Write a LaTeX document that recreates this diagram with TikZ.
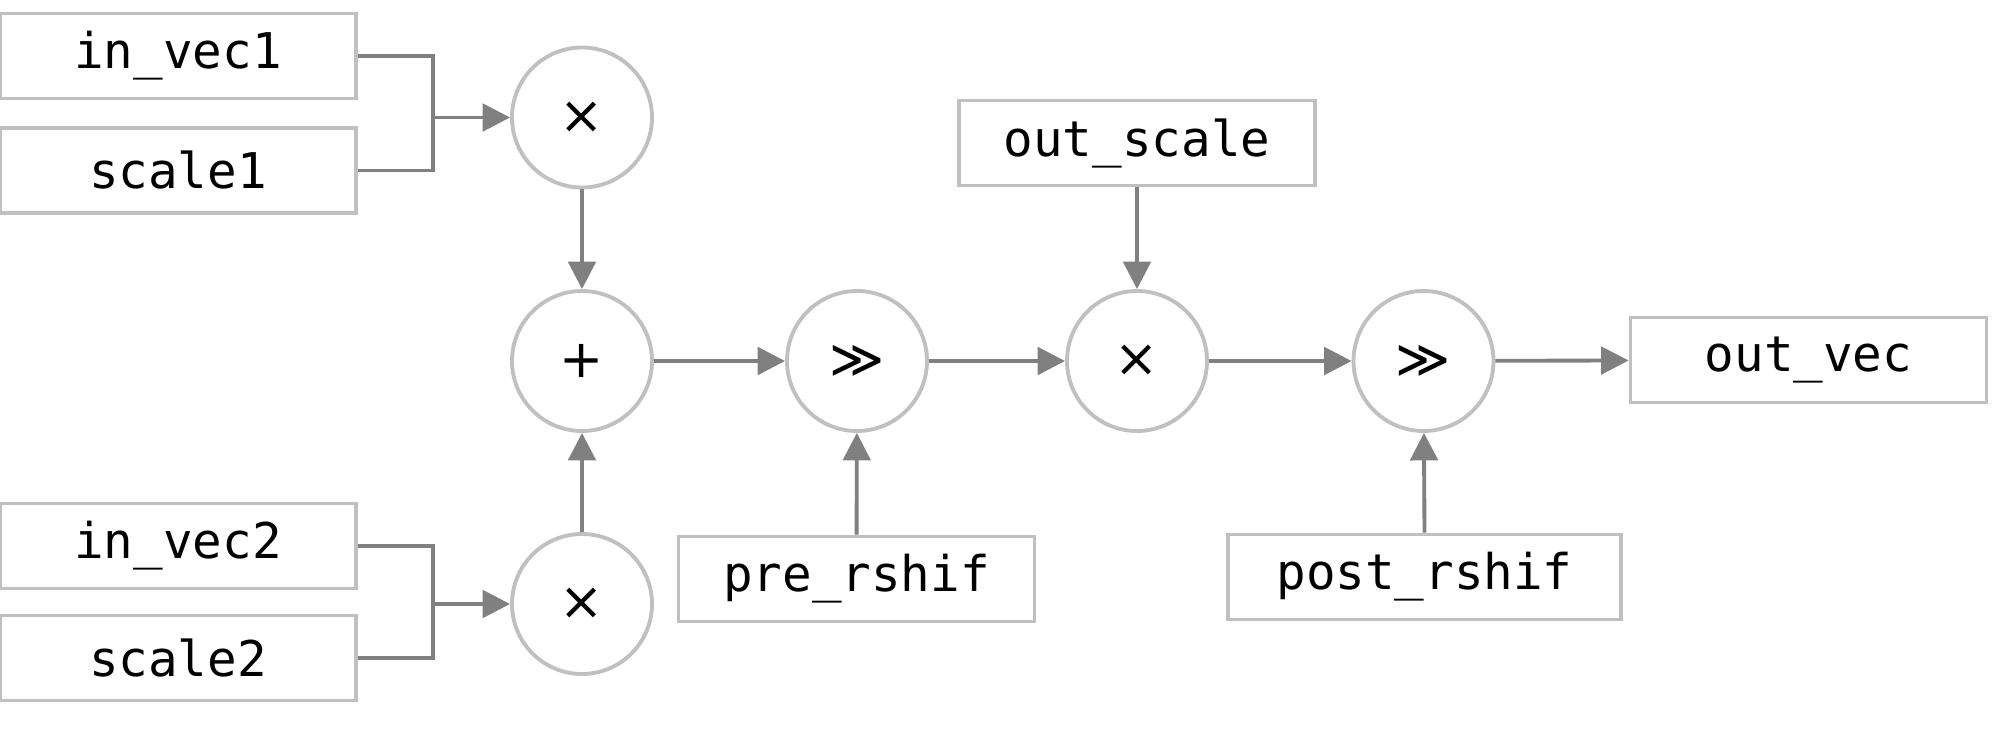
\documentclass[tikz,border=0pt]{standalone}
\usepackage{amsmath}
\usepackage{fontspec}
\setmonofont{DejaVu Sans Mono}
\newfontfamily\opfont{DejaVu Sans}
\usetikzlibrary{arrows.meta}

\definecolor{boxgray}{RGB}{192,192,192}
\definecolor{linegray}{RGB}{128,128,128}

\begin{document}
\begin{tikzpicture}[scale=1,
  vecbox/.style={draw=boxgray, line width=2.2pt, minimum width=7.12cm, minimum height=1.7cm, inner sep=0pt, font=\fontsize{28}{30}\selectfont\ttfamily},
  opnode/.style={circle, draw=boxgray, line width=2.2pt, minimum size=2.8cm, inner sep=0pt, font=\fontsize{30}{32}\selectfont\opfont},
  conn/.style={draw=linegray, line width=2.2pt},
  flow/.style={conn, -{Triangle[length=0.55cm,width=0.55cm]}}]
\useasboundingbox (0,0) rectangle (40,14.94);

\coordinate (J1) at (8.66,12.59);
\coordinate (J2) at (8.66,2.86);

\node [vecbox] (in1) at (3.56,13.82) {in\_vec1};
\node [vecbox] (sc1) at (3.56,11.53) {scale1};
\node [vecbox] (in2) at (3.56,4.02) {in\_vec2};
\node [vecbox] (sc2) at (3.56,1.78) {scale2};
\node [vecbox] (outsc) at (22.74,12.08) {out\_scale};
\node [vecbox] (pre) at (17.13,3.36) {pre\_rshif};
\node [vecbox, minimum width=7.86cm] (post) at (28.49,3.4) {post\_rshif};
\node [vecbox] (outvec) at (36.17,7.74) {out\_vec};

\node [opnode] (mul1) at (11.64,12.59) {×};
\node [opnode] (add) at (11.64,7.72) {+};
\node [opnode] (mul2) at (11.64,2.86) {×};
\node [opnode] (shr1) at (17.14,7.72) {≫};
\node [opnode] (mul3) at (22.74,7.72) {×};
\node [opnode] (shr2) at (28.47,7.72) {≫};

\draw [conn] (in1.east) -| (J1) |- (sc1.east);
\draw [conn] (in2.east) -| (J2) |- (sc2.east);
\draw [flow] (J1) -- (mul1);
\draw [flow] (J2) -- (mul2);

\draw [flow] (mul1) -- (add);
\draw [flow] (mul2) -- (add);
\draw [flow] (add) -- (shr1);
\draw [flow] (pre) -- (shr1);
\draw [flow] (shr1) -- (mul3);
\draw [flow] (outsc) -- (mul3);
\draw [flow] (mul3) -- (shr2);
\draw [flow] (post.north) -- (shr2);
\draw [flow] (shr2) -- (outvec);

\end{tikzpicture}
\end{document}
